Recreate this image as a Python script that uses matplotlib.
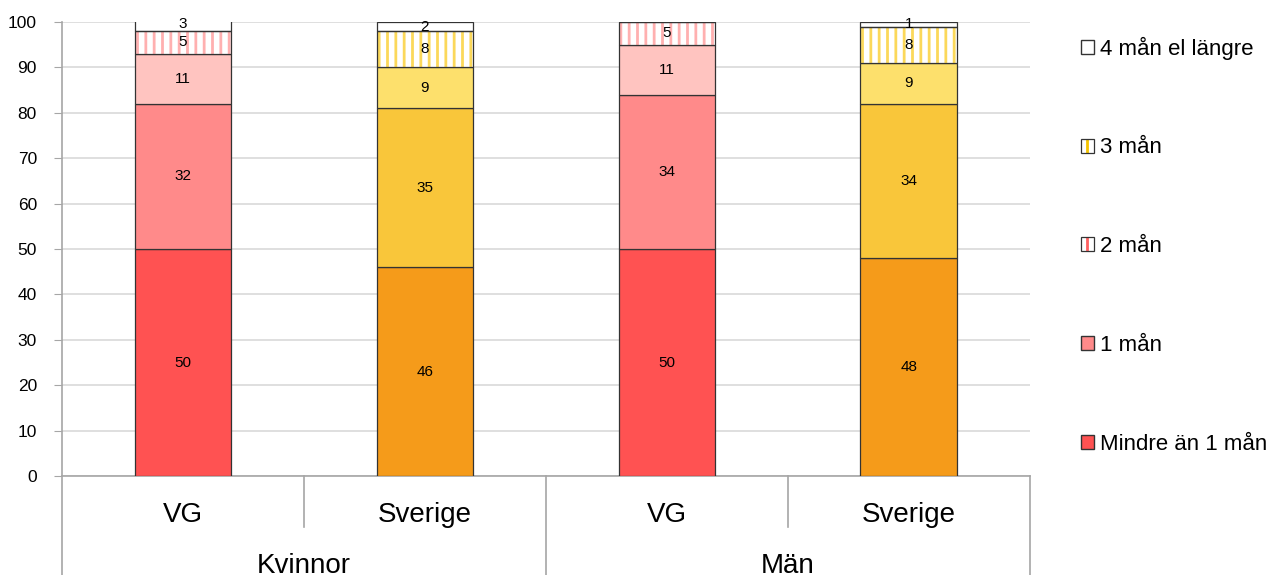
import numpy as np
import matplotlib.pyplot as plt
from matplotlib.patches import Patch

plt.rcParams['font.family'] = ['Liberation Sans', 'DejaVu Sans']
plt.rcParams['hatch.linewidth'] = 2.0

# Data
bars = ['VG', 'Sverige', 'VG', 'Sverige']
groups = ['Kvinnor', 'Män']
series = ['Mindre än 1 mån', '1 mån', '2 mån', '3 mån', '4 mån el längre']
values = np.array([
    [50, 46, 50, 48],   # Mindre än 1 mån
    [32, 35, 34, 34],   # 1 mån
    [11, 9, 11, 9],     # 2 mån
    [5, 8, 5, 8],       # 3 mån
    [3, 2, 0, 1],       # 4 mån el längre
])

vg_colors = ['#FF5252', '#FF8A8A', '#FFC4C0', '#FFB0B0', 'white']
sv_colors = ['#F59B1A', '#F9C63A', '#FDE06C', '#FBD85A', 'white']
hatched = [False, False, False, True, False]

fig = plt.figure(figsize=(12.73, 5.75), dpi=100)
ax = fig.add_axes([0.0487, 0.172, 0.7603, 0.7897])

x = np.arange(len(bars))
width = 0.4
bottom = np.zeros(len(bars))
edge = '#333333'
for i in range(len(series)):
    cols = [vg_colors[i] if b == 'VG' else sv_colors[i] for b in bars]
    if hatched[i]:
        ax.bar(x, values[i], width, bottom=bottom, color='white',
               edgecolor=cols, hatch='||', linewidth=0, zorder=3)
        ax.bar(x, values[i], width, bottom=bottom, fill=False,
               edgecolor=edge, linewidth=0.9, zorder=4)
    else:
        ax.bar(x, values[i], width, bottom=bottom, color=cols,
               edgecolor=edge, linewidth=0.9, zorder=3)
    for j in range(len(bars)):
        v = values[i][j]
        if v > 0:
            ax.text(x[j], bottom[j] + v / 2, str(v), ha='center', va='center',
                    fontsize=11, zorder=5)
    bottom += values[i]

ax.set_ylim(0, 100)
ax.set_xlim(-0.5, len(bars) - 0.5)
ax.set_yticks(np.arange(0, 101, 10))
ax.yaxis.grid(True, color='#D9D9D9', linewidth=1.2)
ax.set_axisbelow(True)
ax.tick_params(axis='y', labelsize=12.5, length=6, color='#A6A6A6', pad=12)
ax.set_xticks([])
for s in ['top', 'right']:
    ax.spines[s].set_visible(False)
for s in ['left', 'bottom']:
    ax.spines[s].set_color('#A6A6A6')
    ax.spines[s].set_linewidth(1.2)

# multi-level category axis
tr = ax.get_xaxis_transform()
for xp in [-0.5, 1.5, 3.5]:
    ax.plot([xp, xp], [0, -0.25], color='#A6A6A6', lw=1.2, transform=tr, clip_on=False)
for xp in [0.5, 2.5]:
    ax.plot([xp, xp], [0, -0.112], color='#A6A6A6', lw=1.2, transform=tr, clip_on=False)
for j, b in enumerate(bars):
    ax.text(x[j], -0.086, b, ha='center', va='center', fontsize=20, transform=tr)
for g, name in enumerate(groups):
    ax.text(2 * g + 0.5, -0.199, name, ha='center', va='center', fontsize=20, transform=tr)

# legend
outline = dict(fill=False, edgecolor='#333333', linewidth=0.9)
handles = [
    Patch(facecolor='white', edgecolor='#333333'),
    (Patch(facecolor='white', edgecolor='#F5C400', hatch='||', linewidth=0), Patch(**outline)),
    (Patch(facecolor='white', edgecolor='#FF6060', hatch='||', linewidth=0), Patch(**outline)),
    Patch(facecolor='#FF8A8A', edgecolor='#333333'),
    Patch(facecolor='#FF5252', edgecolor='#333333'),
]
labels = series[::-1]
fig.legend(handles=handles, labels=labels, loc='upper left', bbox_to_anchor=(0.842, 0.952),
           frameon=False, fontsize=16, labelspacing=3.5, handlelength=0.6,
           handleheight=0.6, handletextpad=0.25, borderaxespad=0)

fig.savefig('out.png', dpi=100)
